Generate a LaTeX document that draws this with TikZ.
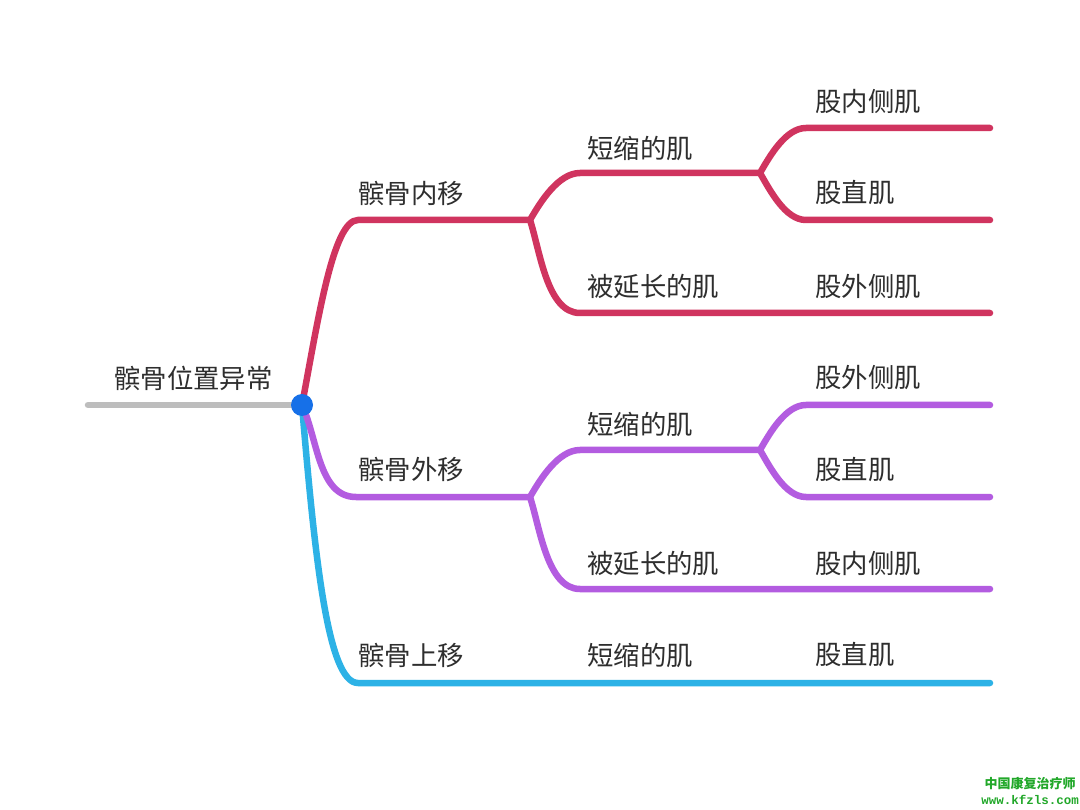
\documentclass[tikz,border=0pt]{standalone}
\usepackage{fontspec}
\newfontfamily\cjk{Noto Sans CJK SC}
\newfontfamily\wmono{Liberation Mono}
\definecolor{redb}{HTML}{D0345F}
\definecolor{purb}{HTML}{B35CE0}
\definecolor{blub}{HTML}{2DB2E6}
\definecolor{grayb}{HTML}{BDBDBD}
\definecolor{dotc}{HTML}{1670E8}
\definecolor{txt}{HTML}{2E2E2E}
\definecolor{wm}{HTML}{22A82A}
\begin{document}
\begin{tikzpicture}[x=1pt,y=-1pt,
  br/.style={line width=6.5pt,line cap=round},
  lbl/.style={anchor=west,inner sep=0pt,text=txt,font=\cjk\fontsize{26.4}{30}\selectfont}]
\useasboundingbox[fill=white] (0,0) rectangle (1080,810);
% coordinates
\coordinate (g0) at (88,405);
\coordinate (hub) at (302,405);
% red
\coordinate (r1) at (358,220); \coordinate (r1e) at (530,220);
\coordinate (r2) at (580,173); \coordinate (r2e) at (760,173);
\coordinate (r3) at (806,128); \coordinate (r3e) at (990,128);
\coordinate (r4) at (806,220); \coordinate (r4e) at (990,220);
\coordinate (r5) at (580,313); \coordinate (r5e) at (990,313);
% purple
\coordinate (p1) at (356,497); \coordinate (p1e) at (530,497);
\coordinate (p2) at (580,450); \coordinate (p2e) at (760,450);
\coordinate (p3) at (806,405); \coordinate (p3e) at (990,405);
\coordinate (p4) at (806,497); \coordinate (p4e) at (990,497);
\coordinate (p5) at (580,589); \coordinate (p5e) at (990,589);
% blue
\coordinate (b1) at (358,683); \coordinate (b1e) at (990,683);

\draw[br,grayb] (g0) -- (hub);
\draw[br,blub] (hub) .. controls (315,560) and (328,683) .. (b1) -- (b1e);
\draw[br,purb] (hub) to[out=-65,in=180,looseness=0.9] (p1) -- (p1e)
  to[out=60,in=180,looseness=0.8] (p2) -- (p2e)
  to[out=60,in=180,looseness=0.8] (p3) -- (p3e);
\draw[br,purb] (p2e) to[out=-60,in=180,looseness=0.8] (p4) -- (p4e);
\draw[br,purb] (p1e) to[out=-72,in=180,looseness=0.8] (p5) -- (p5e);
\draw[br,redb] (hub) .. controls (318,320) and (333,220) .. (r1) -- (r1e)
  to[out=60,in=180,looseness=0.8] (r2) -- (r2e)
  to[out=60,in=180,looseness=0.8] (r3) -- (r3e);
\draw[br,redb] (r2e) to[out=-60,in=180,looseness=0.8] (r4) -- (r4e);
\draw[br,redb] (r1e) to[out=-72,in=180,looseness=0.8] (r5) -- (r5e);
\fill[dotc] (hub) circle (11);

% labels
\node[lbl] (root) at (114,378) {髌骨位置异常};
\node[lbl] (l1) at (358,193) {髌骨内移};
\node[lbl] (l1a) at (587,148) {短缩的肌};
\node[lbl] (l1a1) at (815,102) {股内侧肌};
\node[lbl] (l1a2) at (815,193) {股直肌};
\node[lbl] (l1b) at (587,287) {被延长的肌};
\node[lbl] (l1b1) at (815,287) {股外侧肌};
\node[lbl] (l2) at (358,469) {髌骨外移};
\node[lbl] (l2a) at (587,424) {短缩的肌};
\node[lbl] (l2a1) at (815,378) {股外侧肌};
\node[lbl] (l2a2) at (815,470) {股直肌};
\node[lbl] (l2b) at (587,564) {被延长的肌};
\node[lbl] (l2b1) at (815,564) {股内侧肌};
\node[lbl] (l3) at (358,655) {髌骨上移};
\node[lbl] (l3a) at (587,655) {短缩的肌};
\node[lbl] (l3a1) at (815,655) {股直肌};

% watermark
\node[inner sep=0pt,text=wm,font=\cjk\bfseries\fontsize{13}{14}\selectfont] (wm1) at (1030,784) {中国康复治疗师};
\node[inner sep=0pt,text=wm,font=\wmono\bfseries\fontsize{12.5}{14}\selectfont] (wm2) at (1030,800) {www.kfzls.com};
\end{tikzpicture}
\end{document}
